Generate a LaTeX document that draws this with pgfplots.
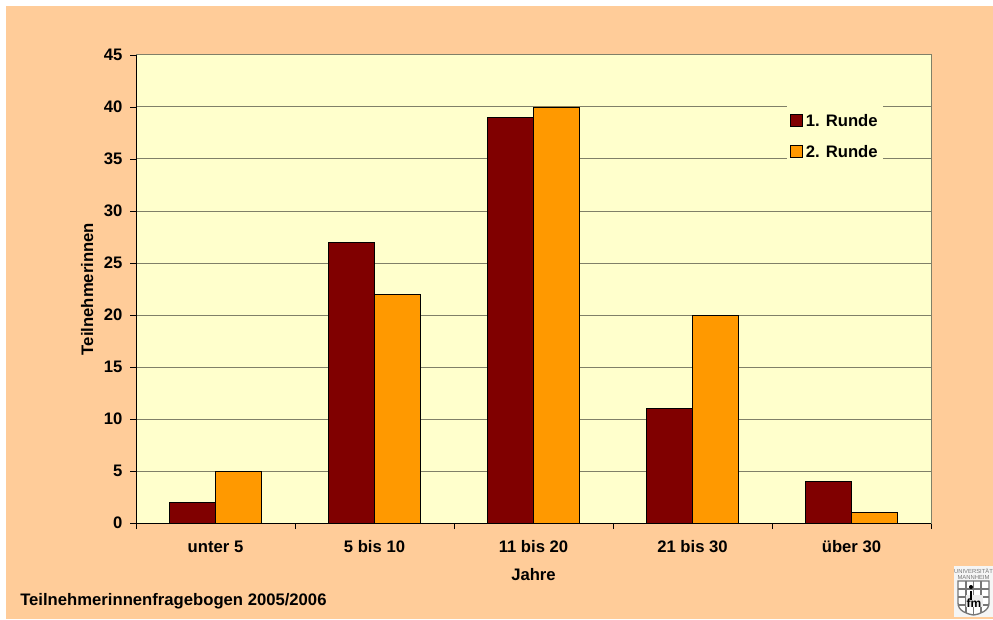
\documentclass[border=0pt]{standalone}
\usepackage{fontspec}
\setmainfont{Liberation Sans}
\usepackage{pgfplots}
\pgfplotsset{compat=1.18}
\definecolor{peach}{HTML}{FFCC99}
\definecolor{plotbg}{HTML}{FFFFCC}
\definecolor{rundeA}{HTML}{800000}
\definecolor{rundeB}{HTML}{FF9900}
\definecolor{gridc}{HTML}{808068}
\definecolor{logoc}{HTML}{777777}
\newlength{\px}\setlength{\px}{0.75pt}
\pgfplotstableread{
x r1 r2
0 2 5
1 27 22
2 39 40
3 11 20
4 4 1
}\rundenData
\begin{document}
\begin{tikzpicture}[x=\px,y=\px]
\fill[white] (0,0) rectangle (993,619);
\fill[peach] (6,0) rectangle (993,613);
\begin{axis}[
  at={(136\px,96\px)}, anchor=south west,
  scale only axis,
  width=795\px, height=468\px,
  ybar=0pt, bar width=46\px,
  xmin=-0.5, xmax=4.5, ymin=0, ymax=45,
  xtick={0,1,2,3,4},
  xticklabels={unter 5,5 bis 10,11 bis 20,21 bis 30,über 30},
  minor xtick={-0.5,0.5,1.5,2.5,3.5,4.5},
  major x tick style={draw=none},
  minor tick length=6\px,
  ytick={0,5,...,45},
  major tick length=6\px,
  tick align=outside, tick pos=left,
  tick style={black, line width=0.6pt},
  ymajorgrids,
  grid style={gridc, line width=0.75pt},
  axis background/.style={fill=plotbg},
  axis line style={gridc, line width=0.75pt},
  font=\fontsize{12.5}{15}\selectfont\bfseries,
  tick label style={font=\fontsize{12.5}{15}\selectfont\bfseries, /pgf/number format/assume math mode=true},
  xticklabel style={yshift=-7\px},
  yticklabel style={xshift=-3\px},
  xlabel={Jahre},
  ylabel={Teilnehmerinnen},
  xlabel style={at={(rel axis cs:0.5,0)}, anchor=base, yshift=-57\px},
  ylabel style={at={(rel axis cs:0,0.5)}, anchor=base, rotate=0, yshift=43\px},
  legend style={at={(rel axis cs:0.8189,0.891)}, anchor=north west, draw=none, fill=plotbg,
    font=\fontsize{12.5}{15}\selectfont\bfseries, row sep=12\px,
    inner xsep=3\px, inner ysep=5\px,
    /tikz/every even column/.append style={column sep=0pt}},
  legend cell align=left,
  legend image code/.code={\draw[#1, draw=black, line width=0.6pt] (9\px,-5\px) rectangle (21\px,7\px);},
]
\addplot[fill=rundeA, draw=black, line width=0.6pt] table[x=x,y=r1] {\rundenData};
\addplot[fill=rundeB, draw=black, line width=0.6pt] table[x=x,y=r2] {\rundenData};
\addlegendentry{1. Runde}
\addlegendentry{2. Runde}
\draw[black, line width=0.75pt] (rel axis cs:0,1) -- (rel axis cs:0,0) -- (rel axis cs:1,0);
\end{axis}
\node[anchor=base west, inner sep=0pt, font=\fontsize{12.5}{15}\selectfont\bfseries] at (20,14) {Teilnehmerinnenfragebogen 2005/2006};
% Logo
\fill[white!92!gray] (954,2) rectangle (993,53);
\node[inner sep=0pt, align=center, logoc, font=\fontsize{4.4}{4.8}\selectfont] at (973.5,45) {UNIVERSITÄT\\MANNHEIM};
\draw[logoc, line width=1pt, fill=white] (958,38) -- (989,38) -- (989,16) .. controls (989,8) and (980,5) .. (973.5,4) .. controls (967,5) and (958,8) .. (958,16) -- cycle;
\draw[logoc, line width=1pt] (966,38) -- (966,6) (973.5,38) -- (973.5,4) (981,38) -- (981,6) (958,30) -- (989,30) (958,22) -- (989,22) (958,14) -- (989,14);
\fill[white!85!gray] (966,12) rectangle (983,24);
\node[inner sep=0pt, black, font=\fontsize{9}{9}\selectfont\bfseries] at (974,15.5) {fm};
\draw[black, line width=1.6pt] (971,19) -- (971,28);
\fill[black] (971,32) circle (2);
\end{tikzpicture}
\end{document}
